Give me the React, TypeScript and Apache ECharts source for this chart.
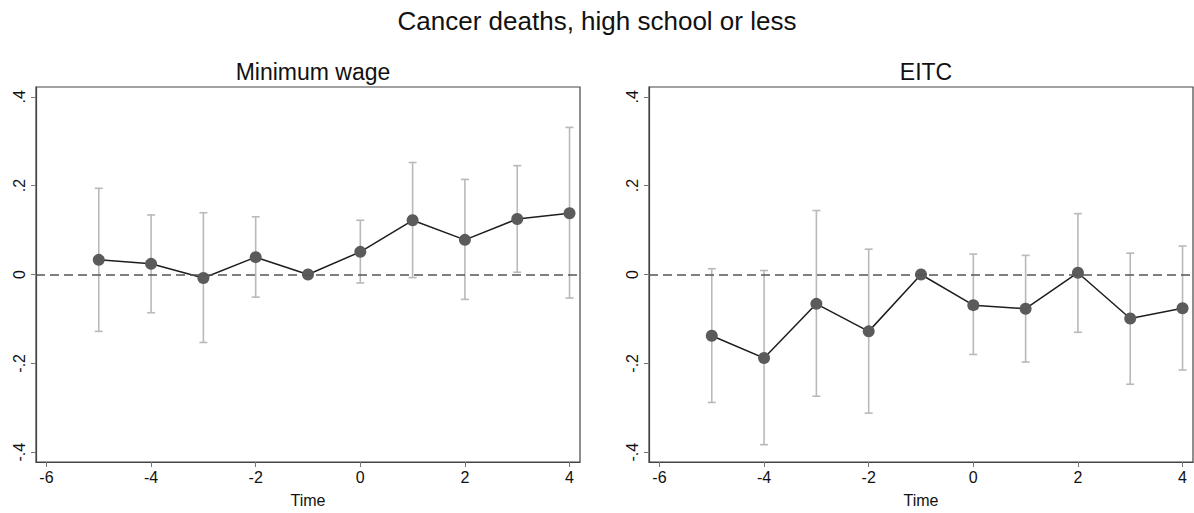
import React, { useEffect, useRef } from "react";
import * as echarts from "echarts";

const times = [-5, -4, -3, -2, -1, 0, 1, 2, 3, 4];

const mwCoef = [0.033, 0.024, -0.008, 0.039, 0, 0.051, 0.122, 0.078, 0.125, 0.138];
const mwUpper = [0.194, 0.134, 0.139, 0.130, null, 0.122, 0.252, 0.214, 0.245, 0.331];
const mwLower = [-0.128, -0.086, -0.153, -0.051, null, -0.019, -0.007, -0.056, 0.005, -0.053];

const eitcCoef = [-0.138, -0.188, -0.066, -0.128, 0, -0.069, -0.077, 0.004, -0.099, -0.076];
const eitcUpper = [0.013, 0.009, 0.144, 0.057, null, 0.046, 0.043, 0.137, 0.048, 0.064];
const eitcLower = [-0.288, -0.383, -0.274, -0.312, null, -0.180, -0.197, -0.130, -0.247, -0.215];

const xTicks = [-6, -4, -2, 0, 2, 4];
const yTicks = [-0.4, -0.2, 0, 0.2, 0.4];

const mainTitle = "Cancer deaths, high school or less";
const panelTitles = ["Minimum wage", "EITC"];
const xName = "Time";

const FONT = "'Liberation Sans', Arial, Helvetica, sans-serif";

const fmtY = (v: number) => {
  if (Math.abs(v) < 1e-9) return "0";
  const s = Math.abs(v).toFixed(1).replace(/^0/, "");
  return (v < 0 ? "-" : "") + s;
};

export default function App() {
  const ref = useRef<HTMLDivElement>(null);
  useEffect(() => {
    if (!ref.current) return;
    const chart = echarts.init(ref.current, undefined, { renderer: "svg" });

    const grids = [
      { left: 36, top: 87, width: 544, height: 377 },
      { left: 649, top: 87, width: 544, height: 377 },
    ];

    const xAxes = grids.map((_, i) => ({
      type: "value",
      gridIndex: i,
      min: -6.2,
      max: 4.2,
      name: xName,
      nameLocation: "middle",
      nameGap: 30,
      nameTextStyle: { fontFamily: FONT, fontSize: 16, color: "#111" },
      splitLine: { show: false },
      axisLine: { show: true, onZero: false, lineStyle: { color: "#444", width: 1.2 } },
      axisTick: { show: true, length: 5, customValues: xTicks, lineStyle: { color: "#777" } },
      axisLabel: {
        customValues: xTicks,
        fontFamily: FONT,
        fontSize: 16,
        color: "#111",
        margin: 7,
        formatter: (v: number) => String(v),
      },
    }));

    const yAxes = grids.map((_, i) => ({
      type: "value",
      gridIndex: i,
      min: -0.422,
      max: 0.422,
      splitLine: { show: false },
      axisLine: { show: true, onZero: false, lineStyle: { color: "#444", width: 1.2 } },
      axisTick: { show: true, length: 5, customValues: yTicks, lineStyle: { color: "#777" } },
      axisLabel: {
        customValues: yTicks,
        rotate: 90,
        fontFamily: FONT,
        fontSize: 16,
        color: "#111",
        margin: 9,
        formatter: fmtY,
      },
    }));

    const makeBars = (upper: (number | null)[], lower: (number | null)[]) =>
      times
        .map((t, k) => [t, lower[k], upper[k]])
        .filter((d) => d[1] !== null && d[2] !== null);

    const errSeries = (i: number, upper: (number | null)[], lower: (number | null)[]) => ({
      type: "custom",
      xAxisIndex: i,
      yAxisIndex: i,
      z: 1,
      silent: true,
      data: makeBars(upper, lower),
      renderItem: (params: any, api: any) => {
        const x = api.value(0);
        const lo = api.coord([x, api.value(1)]);
        const hi = api.coord([x, api.value(2)]);
        const w = 4;
        const style = { stroke: "#b9b9b9", lineWidth: 1.6 };
        return {
          type: "group",
          children: [
            { type: "line", shape: { x1: lo[0], y1: lo[1], x2: hi[0], y2: hi[1] }, style },
            { type: "line", shape: { x1: lo[0] - w, y1: lo[1], x2: lo[0] + w, y2: lo[1] }, style },
            { type: "line", shape: { x1: hi[0] - w, y1: hi[1], x2: hi[0] + w, y2: hi[1] }, style },
          ],
        };
      },
      markLine: {
        silent: true,
        symbol: "none",
        label: { show: false },
        lineStyle: { color: "#555555", type: [9, 5], width: 1.5 },
        data: [{ yAxis: 0 }],
      },
    });

    const lineSeries = (i: number, coef: number[]) => ({
      type: "line",
      xAxisIndex: i,
      yAxisIndex: i,
      z: 3,
      data: times.map((t, k) => [t, coef[k]]),
      symbol: "circle",
      symbolSize: 12,
      itemStyle: { color: "#5b5b5b" },
      lineStyle: { color: "#1e1e1e", width: 1.5 },
    });

    chart.setOption({
      animation: false,
      backgroundColor: "#ffffff",
      textStyle: { fontFamily: FONT },
      title: [
        {
          text: mainTitle,
          left: "center",
          top: 3,
          textStyle: { fontFamily: FONT, fontSize: 26, fontWeight: "normal", color: "#111" },
        },
        {
          text: panelTitles[0],
          left: 308,
          textAlign: "center",
          top: 55,
          textStyle: { fontFamily: FONT, fontSize: 23, fontWeight: "normal", color: "#111" },
        },
        {
          text: panelTitles[1],
          left: 921,
          textAlign: "center",
          top: 55,
          textStyle: { fontFamily: FONT, fontSize: 23, fontWeight: "normal", color: "#111" },
        },
      ],
      grid: grids.map((g) => ({ ...g, show: true, borderColor: "#444", borderWidth: 1.2, backgroundColor: "#fff" })),
      xAxis: xAxes,
      yAxis: yAxes,
      series: [
        errSeries(0, mwUpper, mwLower),
        lineSeries(0, mwCoef),
        errSeries(1, eitcUpper, eitcLower),
        lineSeries(1, eitcCoef),
      ],
    });

    return () => chart.dispose();
  }, []);

  return (
    <div
      ref={ref}
      style={{ position: "absolute", left: 0, top: 0, width: 1194, height: 513, background: "#fff" }}
    />
  );
}
